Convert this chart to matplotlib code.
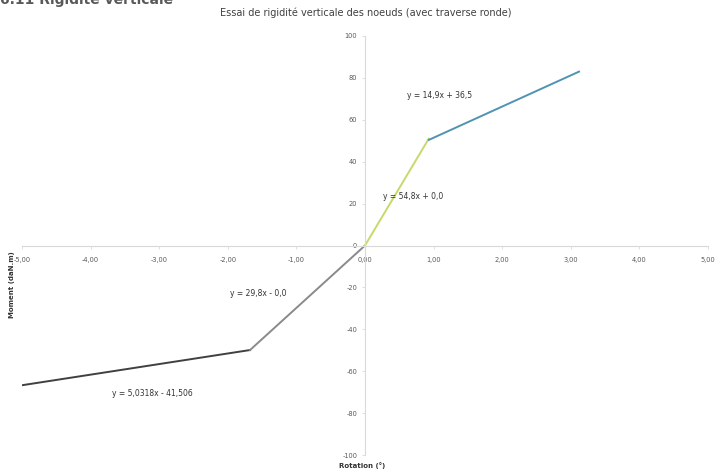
import matplotlib.pyplot as plt
from matplotlib.ticker import FuncFormatter

# segments (rotation in deg, moment in daN.m)
x_pos_high = [0.93, 3.12]
y_pos_high = [50.4, 83.0]
x_pos_low = [0.0, 0.93]
y_pos_low = [0.0, 51.0]
x_neg_low = [0.0, -1.676]
y_neg_low = [0.0, -49.9]
x_neg_high = [-1.676, -5.0]
y_neg_high = [-49.9, -66.7]

eq_labels = ['y = 14,9x + 36,5', 'y = 54,8x + 0,0', 'y = 29,8x - 0,0', 'y = 5,0318x - 41,506']
eq_pos = [(1.08, 71.5), (0.70, 23.5), (-1.56, -23), (-3.1, -70.5)]

x_ticks = [-5, -4, -3, -2, -1, 0, 1, 2, 3, 4, 5]
y_ticks = [-100, -80, -60, -40, -20, 0, 20, 40, 60, 80, 100]

fig = plt.figure(figsize=(7.19, 4.72), dpi=100)
ax = fig.add_axes([22/719, 17/472, 686/719, 419/472])

ax.plot(x_neg_high, y_neg_high, color='#404040', lw=1.4)
ax.plot(x_neg_low, y_neg_low, color='#8a8a8a', lw=1.4)
ax.plot(x_pos_low, y_pos_low, color='#c9d86b', lw=1.4)
ax.plot(x_pos_high, y_pos_high, color='#4f93b3', lw=1.4)

for txt, (tx, ty) in zip(eq_labels, eq_pos):
    ax.text(tx, ty, txt, fontsize=5.5, color='#333333', ha='center', va='center')

ax.set_xlim(-5, 5)
ax.set_ylim(-100, 100)
ax.set_xticks(x_ticks)
ax.set_yticks(y_ticks)
ax.xaxis.set_major_formatter(FuncFormatter(lambda v, p: f'{v:.2f}'.replace('.', ',')))
ax.yaxis.set_major_formatter(FuncFormatter(lambda v, p: f'{v:.0f}'))

for s in ['top', 'right']:
    ax.spines[s].set_visible(False)
ax.spines['left'].set_position(('data', 0))
ax.spines['bottom'].set_position(('data', 0))
for s in ['left', 'bottom']:
    ax.spines[s].set_color('#d9d9d9')
    ax.spines[s].set_linewidth(0.8)
ax.tick_params(axis='both', labelsize=4.8, colors='#d9d9d9', labelcolor='#595959', length=2, width=0.6)
ax.tick_params(axis='x', pad=6)

fig.text(366/719, 1 - 13/472, 'Essai de rigidité verticale des noeuds (avec traverse ronde)',
         ha='center', va='center', fontsize=7, color='#404040')
fig.text(12/719, 1 - 285/472, 'Moment (daN.m)', rotation=90, ha='center', va='center',
         fontsize=5, fontweight='bold', color='#333333')
fig.text(362/719, 1 - 466/472, 'Rotation (°)', ha='center', va='center',
         fontsize=5, fontweight='bold', color='#333333')
# section heading of the page, cut by the top edge as in the scan
fig.text(0.0, 1.0, '6.11 Rigidité verticale', ha='left', va='center',
         fontsize=10, fontweight='bold', color='#595959')

fig.savefig('out.png', dpi=100)
